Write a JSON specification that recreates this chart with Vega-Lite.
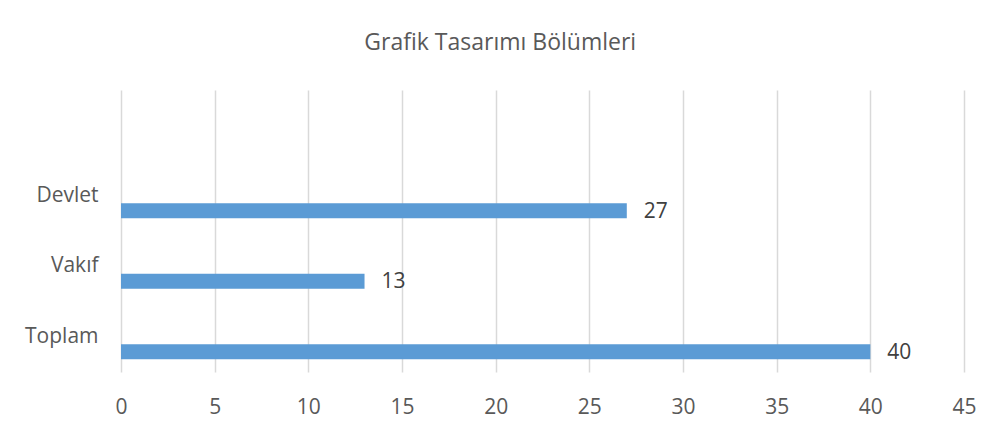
{
  "$schema": "https://vega.github.io/schema/vega-lite/v6.json",
  "autosize": "none",
  "width": 843,
  "height": 282,
  "padding": {"left": 121, "top": 90, "right": 31, "bottom": 61},
  "background": "white",
  "config": {"view": {"stroke": null}, "font": "Open Sans"},
  "title": {
    "text": "Grafik Tasarımı Bölümleri",
    "frame": "bounds",
    "anchor": "middle",
    "fontSize": 23,
    "fontWeight": "normal",
    "color": "#595959",
    "font": "Open Sans",
    "offset": 35
  },
  "data": {
    "values": [
      {"kategori": "Devlet", "sayi": 27},
      {"kategori": "Vakıf", "sayi": 13},
      {"kategori": "Toplam", "sayi": 40}
    ]
  },
  "encoding": {
    "y": {
      "field": "kategori",
      "type": "nominal",
      "scale": {"domain": ["", "Devlet", "Vakıf", "Toplam"], "paddingInner": 0, "paddingOuter": 0},
      "axis": {
        "title": null,
        "domain": false,
        "ticks": false,
        "grid": false,
        "labelFontSize": 21,
        "labelColor": "#595959",
        "labelPadding": 23,
        "labelFont": "Open Sans"
      }
    },
    "x": {
      "field": "sayi",
      "type": "quantitative",
      "scale": {"domain": [0, 45], "nice": false},
      "axis": {
        "title": null,
        "values": [0, 5, 10, 15, 20, 25, 30, 35, 40, 45],
        "domain": false,
        "ticks": false,
        "grid": true,
        "gridColor": "#D9D9D9",
        "gridWidth": 1.5,
        "labelFontSize": 21,
        "labelColor": "#595959",
        "labelPadding": 24,
        "labelFont": "Open Sans",
        "labelFlush": false
      }
    }
  },
  "layer": [
    {"mark": {"type": "bar", "height": 15, "yOffset": 15, "color": "#5B9BD5"}},
    {
      "mark": {"type": "text", "align": "left", "baseline": "middle", "dx": 17, "yOffset": 16, "fontSize": 21, "color": "#404040", "font": "Open Sans"},
      "encoding": {"text": {"field": "sayi", "type": "quantitative"}}
    }
  ]
}
